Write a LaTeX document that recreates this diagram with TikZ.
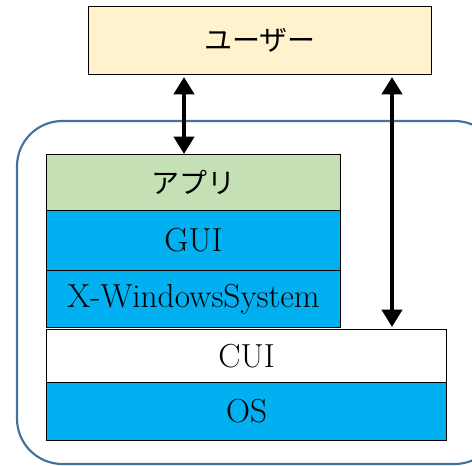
\documentclass[tikz,border=0pt]{standalone}
\usepackage{fontspec}
\newfontfamily\jpfont{Noto Sans CJK JP}
\usetikzlibrary{arrows.meta}
\definecolor{userfill}{HTML}{FFF2CC}
\definecolor{appfill}{HTML}{C5E0B4}
\definecolor{cyanfill}{HTML}{00B0F0}
\definecolor{frame}{HTML}{41719C}
\tikzset{
  layer/.style={draw=black, line width=0.8pt, inner sep=0pt, anchor=north west, font=\fontsize{25}{30}\selectfont},
  jp/.style={font=\fontsize{21}{26}\selectfont\jpfont},
  bidir/.style={line width=3pt, {Triangle[width=15pt,length=13pt]}-{Triangle[width=15pt,length=13pt]}}
}
\begin{document}
\begin{tikzpicture}[x=0.75pt,y=-0.75pt]
\useasboundingbox (0,0) rectangle (472,465);
\begin{scope}
\clip (0,0) rectangle (472,465);
\draw[frame, line width=1.6pt, rounded corners=34pt] (17,121) rectangle (500,464);
\end{scope}
\node[layer, jp, fill=userfill, minimum width=343*0.75pt, minimum height=68*0.75pt] (user) at (88,6) {ユーザー};
\node[layer, jp, fill=appfill, minimum width=294*0.75pt, minimum height=56*0.75pt] (app) at (46,154) {アプリ};
\node[layer, fill=cyanfill, minimum width=294*0.75pt, minimum height=60*0.75pt] (gui) at (46,210) {GUI};
\node[layer, fill=cyanfill, minimum width=294*0.75pt, minimum height=57*0.75pt] (xws) at (46,270) {X-WindowsSystem};
\node[layer, fill=white, minimum width=400*0.75pt, minimum height=53*0.75pt] (cui) at (46,329) {CUI};
\node[layer, fill=cyanfill, minimum width=400*0.75pt, minimum height=58*0.75pt] (os) at (46,382) {OS};
\coordinate (a1t) at (184,77);
\coordinate (a1b) at (184,154);
\coordinate (a2t) at (392,77);
\coordinate (a2b) at (392,327);
\draw[bidir] (a1t) -- (a1b);
\draw[bidir] (a2t) -- (a2b);
\end{tikzpicture}
\end{document}
